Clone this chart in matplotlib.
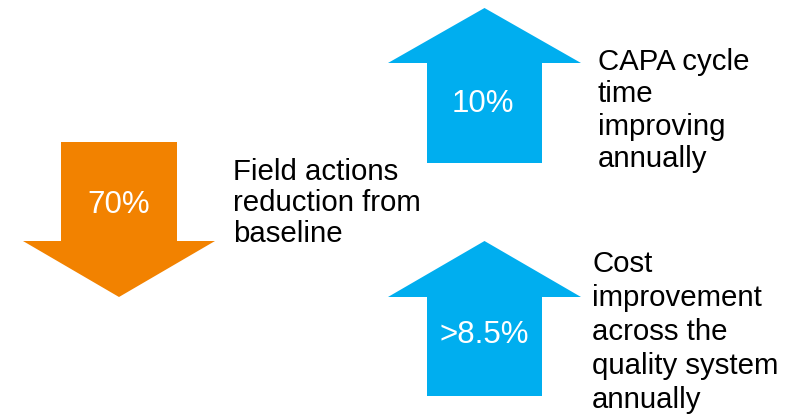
import matplotlib
matplotlib.use("Agg")
import matplotlib.pyplot as plt
from matplotlib.patches import Polygon

plt.rcParams['font.family'] = ['Liberation Sans', 'DejaVu Sans']

# ---- data ----
values = ["70%", "10%", ">8.5%"]
directions = ["down", "up", "up"]
descriptions = [
    "Field actions\nreduction from\nbaseline",
    "CAPA cycle\ntime\nimproving\nannually",
    "Cost\nimprovement\nacross the\nquality system\nannually",
]
colors = ["#F28200", "#00AEEF", "#00AEEF"]

# ---- layout (pixel coordinates) ----
arrow_geom = [
    dict(cx=119, sw=58, hw=96, yflat=142, ybase=241, ytip=297),
    dict(cx=484.5, sw=57.5, hw=96.5, yflat=163, ybase=63, ytip=8),
    dict(cx=484.5, sw=57.5, hw=96.5, yflat=396, ybase=297, ytip=241),
]
value_pos = [(119, 205), (483, 104), (484, 335)]
desc_pos = [(233, 180), (598, 70), (592, 272)]
line_step = [31, 32.3, 34]

W, H = 795, 416
fig = plt.figure(figsize=(W / 100, H / 100), dpi=100)
ax = fig.add_axes([0, 0, 1, 1])
ax.set_xlim(0, W)
ax.set_ylim(H, 0)
ax.axis('off')

for g, val, col, (vx, vy), desc, (dx, dy), step in zip(
        arrow_geom, values, colors, value_pos, descriptions, desc_pos, line_step):
    cx, sw, hw = g['cx'], g['sw'], g['hw']
    pts = [
        (cx - sw, g['yflat']),
        (cx + sw, g['yflat']),
        (cx + sw, g['ybase']),
        (cx + hw, g['ybase']),
        (cx, g['ytip']),
        (cx - hw, g['ybase']),
        (cx - sw, g['ybase']),
    ]
    ax.add_patch(Polygon(pts, closed=True, facecolor=col, edgecolor='none'))
    ax.text(vx, vy, val, color='white', fontsize=22.5, ha='center', va='center')
    for i, line in enumerate(desc.split("\n")):
        ax.text(dx, dy + i * step, line, color='black', fontsize=21.2,
                ha='left', va='baseline')

fig.savefig("out.png", dpi=100)
